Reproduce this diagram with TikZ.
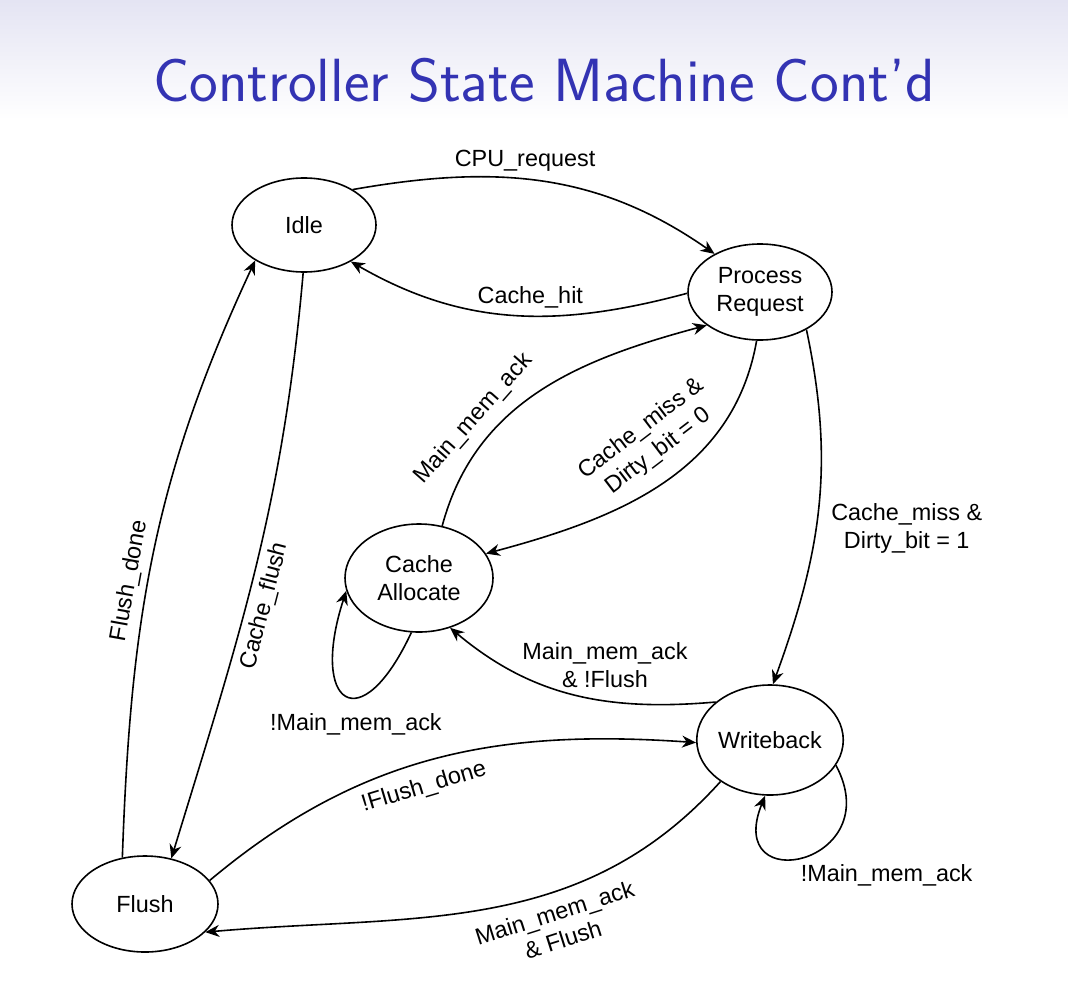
\documentclass[tikz,border=0pt]{standalone}
\usepackage{fontspec}
\usepackage{tikz}
\usetikzlibrary{shapes.geometric, arrows.meta, positioning}
\newfontfamily\diagfont{Liberation Sans}
\definecolor{titleBlue}{RGB}{51, 51, 179}
\definecolor{headTop}{RGB}{228, 228, 243}

\begin{document}
\begin{tikzpicture}[
        x=0.5pt, y=0.5pt,
        state/.style={ellipse, draw, thick, minimum width=72pt, minimum height=48pt, inner sep=0pt, align=center, font=\diagfont\fontsize{11.7}{14}\selectfont},
        trans/.style={-{Stealth[length=7pt, width=6pt]}, thick},
        lbl/.style={font=\diagfont\fontsize{11.7}{14}\selectfont, align=center}
    ]
        \useasboundingbox (0,0) rectangle (1068,-984);
        % Header
        \shade[top color=headTop, bottom color=white] (0,0) rectangle (1068,-120);
        \node[font=\sffamily\fontsize{30.5}{36}\selectfont, text=titleBlue] (title) at (544,-80) {Controller State Machine Cont'd};

        % States
        \node[state, minimum height=47pt] (idle) at (304,-225) {Idle};
        \node[state] (process) at (760,-292) {Process\\Request};
        \node[state, minimum width=74pt, minimum height=54pt] (alloc) at (419,-578) {Cache\\Allocate};
        \node[state, minimum width=73pt, minimum height=55pt] (writeback) at (770,-740) {Writeback};
        \node[state, minimum width=73pt] (flush) at (145,-904) {Flush};

        % Transitions
        \draw[trans] (idle.36) to[out=10, in=145] node[lbl, above, pos=0.45] {CPU\_request} (process.140);
        \draw[trans] (process.181) to[out=195, in=-30] node[lbl, above, pos=0.45] {Cache\_hit} (idle.-38);
        \draw[trans] (alloc.66) to[out=75, in=195] node[lbl, sloped, above=2pt, pos=0.3] {Main\_mem\_ack} (process.212);
        \draw[trans] (process.266) to[out=-100, in=15] node[lbl, sloped, above=5pt, pos=0.45] {Cache\_miss \&\\Dirty\_bit = 0} (alloc.20);
        \draw[trans] (process.-39) to[out=-78, in=70] node[lbl, right=4pt, pos=0.56] {Cache\_miss \&\\Dirty\_bit = 1} (writeback.87);
        \draw[trans] (writeback.145) to[out=185, in=-40] node[lbl, above=3pt, pos=0.38] {Main\_mem\_ack\\\& !Flush} (alloc.-58);
        \draw[trans] (alloc.262) to[out=-115, in=-108, distance=60pt] node[lbl, below=4pt, pos=0.4] {!Main\_mem\_ack} (alloc.190);
        \draw[trans] (writeback.-21) to[out=-62, in=-112, distance=56pt] node[lbl, below right=2pt and -10pt, pos=0.45] {!Main\_mem\_ack} (writeback.265);
        \draw[trans] (flush.20) to[out=40, in=176] node[lbl, sloped, below=3pt, pos=0.46] {!Flush\_done} (writeback.182);
        \draw[trans] (writeback.220) to[out=228, in=5] node[lbl, sloped, below=2pt, pos=0.38] {Main\_mem\_ack\\\& Flush} (flush.-25);
        \draw[trans] (idle.-91) to[out=-95, in=73] node[lbl, sloped, below, pos=0.56] {Cache\_flush} (flush.60);
        \draw[trans] (flush.116) to[out=88, in=-115] node[lbl, sloped, above, pos=0.44] {Flush\_done} (idle.216);
    \end{tikzpicture}
\end{document}
